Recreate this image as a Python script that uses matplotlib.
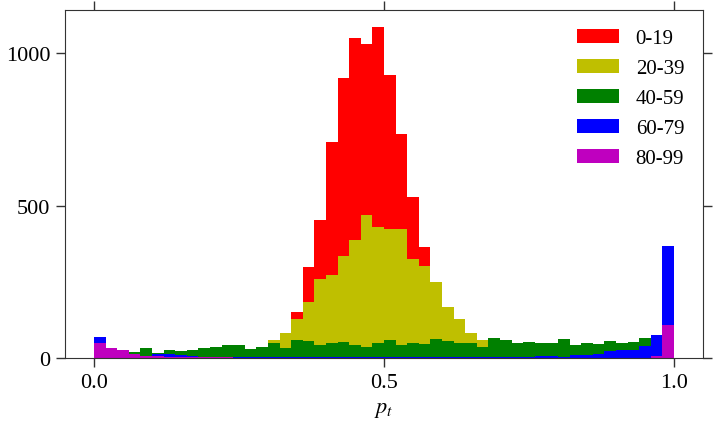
import matplotlib
matplotlib.use("Agg")
import matplotlib.pyplot as plt
import numpy as np

# bin edges: 50 bins of width 0.02 over [0, 1]
edges = np.linspace(0.0, 1.0, 51)
centers = (edges[:-1] + edges[1:]) / 2

labels = ["0-19", "20-39", "40-59", "60-79", "80-99"]
colors = ["r", "y", "g", "b", "m"]

# counts per bin (hidden parts estimated)
red = [2, 1, 1, 1, 2, 1, 2, 3, 3, 4, 5, 6, 10, 15, 25, 40, 65, 150, 298, 454,
       711, 921, 1052, 1031, 1088, 929, 735, 529, 366, 230, 130, 80, 45, 25, 15, 8, 5, 3, 2, 1,
       1, 1, 0, 0, 0, 0, 0, 0, 0, 0]
yellow = [2, 2, 3, 4, 5, 5, 6, 6, 8, 10, 12, 14, 18, 20, 28, 61, 82, 127, 185, 261,
          273, 334, 387, 469, 432, 424, 423, 325, 303, 249, 167, 127, 83, 58, 40, 30, 22, 18, 14, 10,
          8, 6, 5, 4, 3, 3, 2, 2, 1, 1]
green = [15, 12, 14, 21, 33, 16, 25, 22, 28, 32, 35, 43, 44, 30, 36, 48, 33, 60, 57, 43,
         51, 52, 42, 36, 50, 59, 43, 49, 45, 62, 56, 51, 51, 37, 65, 60, 51, 52, 49, 48,
         62, 43, 51, 46, 55, 48, 54, 65, 60, 40]
blue = [68, 20, 15, 10, 5, 13, 12, 10, 6, 5, 4, 5, 3, 3, 5, 4, 3, 4, 2, 2,
        2, 3, 3, 2, 2, 2, 4, 2, 3, 3, 2, 2, 4, 3, 3, 4, 5, 5, 8, 8,
        5, 11, 11, 13, 23, 27, 27, 39, 77, 367]
magenta = [51, 32, 25, 14, 6, 7, 5, 5, 3, 3, 2, 2, 1, 0, 0, 0, 0, 0, 0, 0,
           0, 0, 0, 0, 0, 0, 0, 0, 0, 0, 0, 0, 0, 0, 0, 0, 0, 0, 0, 0,
           0, 0, 0, 0, 0, 0, 0, 0, 8, 110]

series = [red, yellow, green, blue, magenta]

plt.rcParams['font.family'] = ['Liberation Serif', 'DejaVu Serif']
plt.rcParams['mathtext.fontset'] = 'stix'
plt.rcParams['font.size'] = 16

fig = plt.figure(figsize=(7.14, 4.27), dpi=100)
ax = fig.add_axes([0.091, 0.159, 0.8936, 0.815])

# overlaid histograms, each drawn over the previous one
for counts, col, lab in zip(series, colors, labels):
    ax.hist(centers, bins=edges, weights=counts, color=col, label=lab)

ax.set_xticks([0.0, 0.5, 1.0])
ax.set_yticks([0, 500, 1000])
ax.tick_params(direction='out', length=6.5, width=1, top=True, right=True,
               labelsize=16, color='#333333', pad=4)
for sp in ax.spines.values():
    sp.set_color('#333333')
ax.set_xlabel("$p_t$", fontsize=16, labelpad=6)

ax.legend(loc='upper right', frameon=False, fontsize=15, handlelength=2.0,
          labelspacing=0.5)

fig.savefig("out.png", dpi=100)
